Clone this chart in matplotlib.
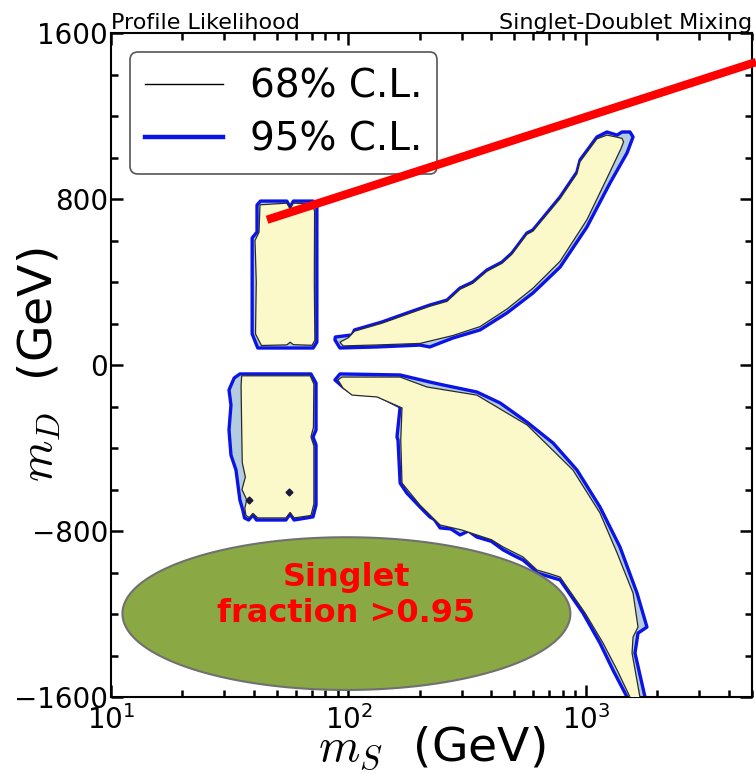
import numpy as np
import matplotlib
matplotlib.use('Agg')
import matplotlib.pyplot as plt
from matplotlib.lines import Line2D
from matplotlib.ticker import MultipleLocator, LogLocator

plt.rcParams['mathtext.fontset'] = 'cm'
plt.rcParams['font.family'] = ['DejaVu Sans']

# ---------------- data: contour outlines (m_S in GeV, m_D in GeV) ----------------
# Region 1: m_D > 0, light singlet
r1_95 = [(41.2, 771), (42.6, 790), (55, 790), (56.8, 761), (58.6, 790), (71, 790), (73.6, 771),
         (73.6, 110), (71, 82), (41.5, 82), (39.3, 150), (39.3, 612), (41.2, 641)]
r1_68 = [(42.4, 772), (55, 780), (56.8, 752), (58.6, 780), (70.5, 777), (72, 740), (71.8, 400),
         (72.2, 120), (70.3, 95), (58.6, 98), (56.8, 110), (55, 97), (43, 94), (40.6, 150),
         (40.9, 400), (40.4, 600), (42, 640)]

# Region 2: m_D < 0, light singlet
r2_95 = [(34.9, -43), (69.5, -43), (73, -87), (73, -313), (70.9, -347), (73, -385), (73, -675),
         (70.9, -732), (59, -747), (56.8, -718), (54.5, -747), (41, -747), (39.6, -723), (38, -747),
         (36.5, -737), (35.9, -699), (34.9, -651), (33.6, -506), (32, -434), (31.4, -313),
         (32, -193), (31.4, -120), (33, -63)]
r2_68 = [(35.5, -52), (69, -52), (71.5, -92), (71.2, -300), (69.5, -347), (71.5, -390),
         (71.5, -670), (69.5, -725), (59, -737), (56.8, -710), (54.5, -737), (41.5, -737),
         (39.6, -715), (38.2, -735), (37, -725), (36.6, -690), (37.3, -650), (35.6, -600),
         (36.8, -540), (35.7, -470), (35.5, -300), (35.3, -100)]
r2_dots = [(38.1, -651), (56.1, -612)]

# Region 3: m_D > 0 arc
r3_95 = [(87.7, 121), (92, 82), (132, 87), (200, 96), (220, 87), (275, 130), (358, 169),
         (465, 251), (598, 347), (778, 472), (1009, 665), (1262, 877), (1489, 1022),
         (1578, 1099), (1532, 1123), (1418, 1123), (1351, 1108), (1225, 1123), (1112, 1099),
         (944, 988), (916, 930), (778, 810), (598, 651), (564, 636), (488, 540), (443, 496),
         (383, 458), (334, 400), (295, 371), (260, 313), (220, 289), (181, 255), (138, 207),
         (106, 169), (103.5, 145), (88, 135)]
r3_68 = [(92, 110), (95, 92), (135, 97), (200, 104), (275, 142), (358, 185), (465, 270),
         (598, 370), (778, 500), (1009, 700), (1225, 900), (1400, 1040), (1440, 1075),
         (1418, 1092), (1351, 1098), (1225, 1108), (1112, 1090), (944, 980), (916, 922),
         (778, 802), (598, 645), (564, 630), (488, 534), (443, 490), (383, 452), (334, 394),
         (295, 365), (260, 307), (220, 283), (181, 249), (138, 201), (106, 163), (100, 132)]

# Region 4: m_D < 0, large area
r4_95 = [(87.7, -72), (92.1, -43), (164.9, -48), (220, -82), (250, -96), (347, -130),
         (435, -183), (564, -275), (727, -376), (916, -506), (1145, -684), (1390, -877),
         (1640, -1099), (1806, -1263), (1656, -1292), (1608, -1388), (1772, -1600),
         (1780, -1700), (1480, -1700), (1489, -1600), (1299, -1470), (1145, -1340),
         (971, -1195), (778, -1036), (700, -1020), (622, -1002), (590, -975), (543, -940),
         (500, -920), (448, -891), (400, -850), (347, -829), (320, -800), (295, -819),
         (270, -790), (243, -785), (230, -745), (220, -732), (200, -684), (176, -617),
         (165, -569), (161.6, -361), (160, -347), (165, -202), (132, -145), (103.5, -135),
         (94.8, -106)]
r4_68 = [(90.3, -72), (93.9, -58), (165, -58), (214, -106), (347, -145), (565, -289),
         (881, -506), (1145, -713), (1352, -906), (1578, -1099), (1656, -1263), (1578, -1311),
         (1563, -1388), (1687, -1600), (1687, -1711), (1563, -1711), (1532, -1600),
         (1352, -1470), (1180, -1340), (991, -1195), (778, -1022), (700, -1005), (622, -988),
         (543, -925), (448, -877), (400, -842), (347, -819), (300, -795), (243, -771),
         (200, -675), (168, -569), (166, -361), (168, -207), (132, -154), (103.5, -145),
         (94.8, -111)]

# Red line (annotation)
red_mS = [45.4, 5200]
red_mD = [700, 1460]

# Singlet-fraction ellipse (centre m_S, centre m_D, half-width in decades, half-height in GeV)
ell_mS, ell_mD, ell_hw_dec, ell_hh = 98.0, -1198.0, 0.943, 368.0

x_lim = (10, 5000)
y_lim = (-1600, 1600)
y_major = [-1600, -800, 0, 800, 1600]

# ---------------- figure ----------------
fig = plt.figure(figsize=(7.56, 7.73), dpi=100)
ax = fig.add_axes([0.1468, 0.0983, 0.8479, 0.859])
ax.set_xscale('log')
ax.set_xlim(*x_lim)
ax.set_ylim(*y_lim)

c95_face = '#b4cce0'
c95_edge = '#0a14e6'
c68_face = '#fbf8c9'
c68_edge = '#2a2a2a'

for p95, p68 in [(r1_95, r1_68), (r2_95, r2_68), (r3_95, r3_68), (r4_95, r4_68)]:
    a = np.array(p95)
    ax.fill(a[:, 0], a[:, 1], facecolor=c95_face, edgecolor=c95_edge, lw=2.4, zorder=2,
            joinstyle='round')
    b = np.array(p68)
    ax.fill(b[:, 0], b[:, 1], facecolor=c68_face, edgecolor=c68_edge, lw=0.9, zorder=3)

d = np.array(r2_dots)
ax.plot(d[:, 0], d[:, 1], 'D', ms=3.5, color='#1a1a40', zorder=4)

# ellipse drawn in log-x space
t = np.linspace(0, 2 * np.pi, 300)
ex = 10 ** (np.log10(ell_mS) + ell_hw_dec * np.cos(t))
ey = ell_mD + ell_hh * np.sin(t)
ax.fill(ex, ey, facecolor='#8aa945', edgecolor='#707070', lw=1.5, zorder=4)
ax.text(ell_mS, -1110, 'Singlet\nfraction >0.95', color='#ff0000', fontsize=23,
        fontweight='bold', ha='center', va='center', linespacing=1.2, zorder=5)

ax.plot(red_mS, red_mD, color='#ff0000', lw=6, solid_capstyle='butt', zorder=7, clip_on=False)

# ticks
ax.set_yticks(y_major)
ax.yaxis.set_minor_locator(MultipleLocator(200))
ax.xaxis.set_major_locator(LogLocator(base=10))
ax.xaxis.set_minor_locator(LogLocator(base=10, subs=np.arange(2, 10)))
ax.tick_params(which='both', direction='in', top=True, right=True, width=1.8)
ax.tick_params(which='major', length=8.5, labelsize=20)
ax.tick_params(which='minor', length=5)
ax.tick_params(axis='y', pad=2)
ax.tick_params(axis='x', pad=6)
for s in ax.spines.values():
    s.set_linewidth(1.5)

ax.set_xlabel(r'$m_S$  (GeV)', fontsize=34, labelpad=-8)
ax.set_ylabel(r'$m_D$  (GeV)', fontsize=34, va='center')
ax.yaxis.set_label_coords(-0.112, 0.5)

ax.set_title('Profile Likelihood', loc='left', fontsize=16, pad=3)
ax.set_title('Singlet-Doublet Mixing', loc='right', fontsize=16, pad=3)

handles = [Line2D([], [], color='black', lw=1.0), Line2D([], [], color=c95_edge, lw=3.2)]
leg = ax.legend(handles, ['68% C.L.', '95% C.L.'], loc='upper left', fontsize=28,
                frameon=True, fancybox=True, edgecolor='#555555', framealpha=1,
                borderpad=0.38, labelspacing=0.4, handlelength=2.0, handletextpad=0.7,
                borderaxespad=0.5)
leg.set_zorder(6)
leg.get_frame().set_linewidth(1.2)

fig.savefig('out.png', dpi=100)
